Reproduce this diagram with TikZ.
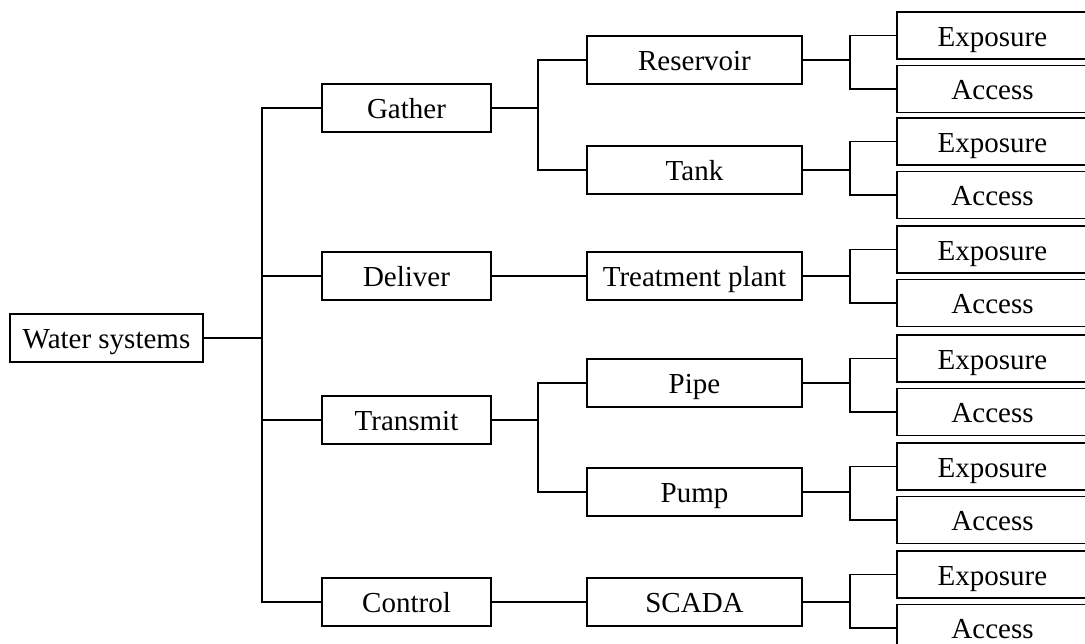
\documentclass[tikz,border=0pt]{standalone}
\usepackage{fontspec}
\setmainfont{Liberation Serif}
\usetikzlibrary{positioning}

\begin{document}
\begin{tikzpicture}[x=1pt, y=-1pt,
  box/.style={rectangle, draw, line width=1.6pt, minimum height=48pt, inner sep=0pt,
    text height=24pt, text depth=3pt, font=\fontsize{29}{34}\selectfont},
  rootbox/.style={box, minimum width=193pt},
  partbox/.style={box, minimum width=169pt},
  assetbox/.style={box, minimum width=215pt},
  riskbox/.style={box, minimum width=191pt, minimum height=47pt},
  link/.style={line width=1.6pt}]

\useasboundingbox (0,0) rectangle (1085,643);
\clip (0,0) rectangle (1085,643);

\node[rootbox] (root) at (106.5,338) {Water systems};

\node[partbox] (gather) at (406.5,108) {Gather};
\node[partbox] (deliver) at (406.5,276) {Deliver};
\node[partbox] (transmit) at (406.5,420) {Transmit};
\node[partbox] (control) at (406.5,602) {Control};

\node[assetbox] (reservoir) at (694.5,60) {Reservoir};
\node[assetbox] (tank) at (694.5,170) {Tank};
\node[assetbox] (plant) at (694.5,276) {Treatment plant};
\node[assetbox] (pipe) at (694.5,383) {Pipe};
\node[assetbox] (pump) at (694.5,492) {Pump};
\node[assetbox] (scada) at (694.5,602) {SCADA};

\coordinate (trunk) at (262,338);
\coordinate (gather-fork) at (538,108);
\coordinate (transmit-fork) at (538,420);

\draw[link, line width=2.4pt] (root) -- (trunk);
\draw[link] (gather.west) -| (trunk) |- (control.west);
\draw[link] (deliver.west) -- (trunk |- deliver.west);
\draw[link] (transmit.west) -- (trunk |- transmit.west);

\draw[link] (gather) -- (gather-fork);
\draw[link] (reservoir.west) -| (gather-fork) |- (tank.west);
\draw[link] (deliver) -- (plant);
\draw[link] (transmit) -- (transmit-fork);
\draw[link] (pipe.west) -| (transmit-fork) |- (pump.west);
\draw[link] (control) -- (scada);

% exposure / access pairs
\foreach \n/\y in {reservoir/35.5, tank/141.5, plant/249.5, pipe/358.5, pump/466.5, scada/574.5} {
  \node[riskbox] (\n-exp) at (992.5,\y) {Exposure};
  \node[riskbox, below=5pt of \n-exp] (\n-acc) {Access};
  \draw[link, line width=2pt] (\n.east) -- ++(47,0) coordinate (\n-fork);
  \draw[link] (\n-exp.west) -| (\n-fork) |- (\n-acc.west);
}
\end{tikzpicture}
\end{document}
